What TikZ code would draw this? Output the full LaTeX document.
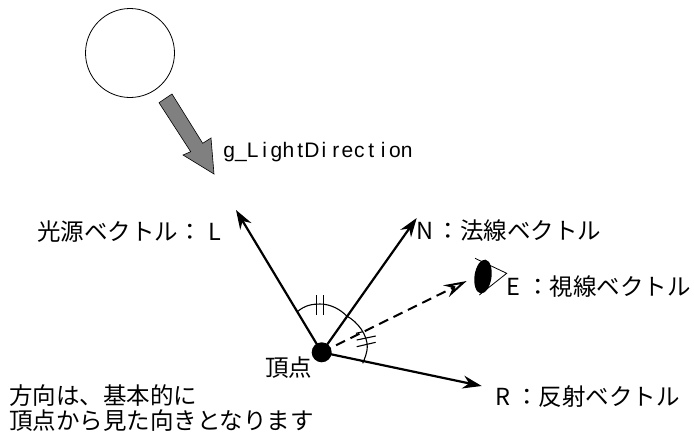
\documentclass[tikz,border=0pt]{standalone}
\usepackage{fontspec}
\usetikzlibrary{arrows.meta, shapes.geometric}
\setmainfont{Liberation Sans}
\newfontfamily\jpfont{Noto Sans CJK JP}
\newcommand{\hw}[1]{\makebox[11.85pt]{#1}}
\tikzset{
  vecline/.style={line width=2.2pt, -{Stealth[length=19pt,width=13pt]}},
  lbl/.style={inner sep=0pt, anchor=west, font=\jpfont\fontsize{23.5}{26}\selectfont},
  mark line/.style={line width=1.1pt},
}
\begin{document}
\begin{tikzpicture}[x=1pt, y=-1pt]

    \useasboundingbox (0,0) rectangle (694,432);

    % Light
    \node[draw, circle, line width=0.8pt, minimum size=89pt, inner sep=0pt] (light) at (130,53) {};
    \draw[line width=0.6pt, fill=black!50] (159,102.7) -- (190.7,151.7) -- (183,155) -- (214,174)
        -- (211,138) -- (202.7,143.3) -- (172,94) -- cycle;
    \node[inner sep=0pt, anchor=base west, font=\fontsize{21}{24}\selectfont] (dirlabel) at (223,157)
        {\hw{g}\hw{\_}\hw{L}\hw{i}\hw{g}\hw{h}\hw{t}\hw{D}\hw{i}\hw{r}\hw{e}\hw{c}\hw{t}\hw{i}\hw{o}\hw{n}};

    % Vertex and tips
    \node[circle, fill=black, minimum size=20pt, inner sep=0pt] (vertex) at (321.7,352.3) {};
    \coordinate (ltip) at (236,210);
    \coordinate (ntip) at (416.7,218);
    \coordinate (etip) at (466.7,281);
    \coordinate (rtip) at (481.7,386);

    % Vectors
    \draw[vecline] (vertex.center) -- (ltip);
    \draw[vecline] (vertex.center) -- (ntip);
    \draw[vecline] (vertex.center) -- (rtip);
    \draw[line width=2pt, dash pattern=on 10pt off 6pt, -{Stealth[length=23pt,width=13pt,open]}] (vertex.center) -- (etip);

    % Angles
    \draw[mark line] (297.3,311.7) .. controls (305,305) and (313,304) .. (320,304)
        .. controls (330,304) and (340,309) .. (346.7,316)
        .. controls (358,322) and (367.3,335) .. (367.3,346.7)
        .. controls (367.3,352) and (365,358) .. (362.7,363.3);
    \draw[mark line] (316.7,295) -- (316.7,315);
    \draw[mark line] (323.3,295) -- (323.3,315);
    \draw[mark line] (356,333.3) -- (363,331.7);
    \draw[mark line] (356.7,340) -- (375.7,336);
    \draw[mark line] (356.7,346.7) -- (375.7,342.3);

    % Eye
    \node[ellipse, fill=black, minimum width=17pt, minimum height=34pt, inner sep=0pt, rotate=-8] (eye) at (483,276.5) {};
    \draw[line width=0.8pt] (475,258.3) -- (506.7,273.3) -- (479.3,295);

    % Labels
    \node[lbl] (llabel) at (37,231.5) {光源ベクトル：\hspace{6.5pt}L};
    \node[lbl] (nlabel) at (416.5,231) {N\hspace{3pt}：法線ベクトル};
    \node[lbl] (elabel) at (506.5,286.5) {E\hspace{5.5pt}：視線ベクトル};
    \node[lbl] (rlabel) at (495,397) {R\hspace{5pt}：反射ベクトル};
    \node[lbl] (vlabel) at (265,368) {頂点};
    \node[lbl] (note1) at (9,396) {方向は、基本的に};
    \node[lbl] (note2) at (9,421) {頂点から見た向きとなります};

\end{tikzpicture}
\end{document}
